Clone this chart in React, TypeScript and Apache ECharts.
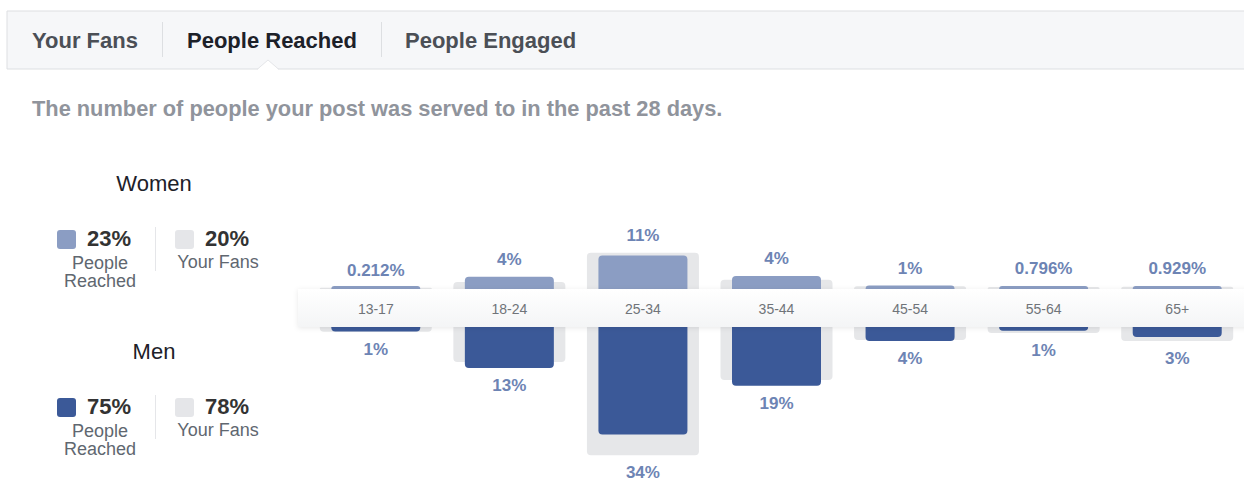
import React, { useEffect, useRef } from 'react';
import * as echarts from 'echarts';

const categories = ['13-17', '18-24', '25-34', '35-44', '45-54', '55-64', '65+'];
const womenReached = [0.212, 3.9, 10.6, 4.1, 1.1, 0.796, 0.929];
const womenFans = [0.4, 2.2, 11.5, 2.9, 0.9, 0.6, 0.7];
const menReached = [1.4, 13, 34, 18.6, 4.4, 1.2, 3.2];
const menFans = [1.5, 11.1, 40.6, 16.8, 4.1, 1.9, 4.4];

const womenTotalReached = '23%';
const womenTotalFans = '20%';
const menTotalReached = '75%';
const menTotalFans = '78%';

const tabs = ['Your Fans', 'People Reached', 'People Engaged'];
const subtitle = 'The number of people your post was served to in the past 28 days.';

const FONT = "'Liberation Sans', Arial, Helvetica, sans-serif";
const WOMEN_COLOR = '#8b9dc3';
const MEN_COLOR = '#3b5998';
const FANS_COLOR = '#e6e7e9';
const LABEL_COLOR = '#6d84b4';

const fmt = (v: number) => (v < 1 ? `${v}%` : `${Math.round(v)}%`);

function txt(text: string, x: number, y: number, size: number, weight: string, fill: string, align = 'left') {
  return {
    type: 'text',
    x,
    y,
    z: 20,
    style: {
      text,
      font: `${weight} ${size}px ${FONT}`,
      fill,
      textAlign: align,
      align,
      textVerticalAlign: 'middle',
      verticalAlign: 'middle',
    },
  };
}

function legendBlock(title: string, color: string, reached: string, fans: string, dy: number) {
  return [
    txt(title, 154, 183 + dy, 22, 'normal', '#1d2129', 'center'),
    { type: 'rect', z: 20, shape: { x: 57, y: 230 + dy, width: 19, height: 19, r: 3 }, style: { fill: color } },
    txt(reached, 87, 238 + dy, 22, 'bold', '#333333'),
    txt('People', 100, 263 + dy, 18, 'normal', '#606770', 'center'),
    txt('Reached', 100, 281 + dy, 18, 'normal', '#606770', 'center'),
    { type: 'line', z: 20, shape: { x1: 155.5, y1: 227 + dy, x2: 155.5, y2: 271 + dy }, style: { stroke: '#e5e6e9', lineWidth: 1 } },
    { type: 'rect', z: 20, shape: { x: 175, y: 230 + dy, width: 19, height: 19, r: 3 }, style: { fill: '#e5e6e9' } },
    txt(fans, 205, 238 + dy, 22, 'bold', '#333333'),
    txt('Your Fans', 218, 262 + dy, 18, 'normal', '#606770', 'center'),
  ];
}

export default function App() {
  const ref = useRef<HTMLDivElement>(null);
  useEffect(() => {
    const chart = echarts.init(ref.current!, null, { renderer: 'svg' });
    const womenMax = womenReached.map((v, i) => Math.max(v, womenFans[i]));
    const menMax = menReached.map((v, i) => Math.max(v, menFans[i]));

    const hiddenX = (gridIndex: number) => ({
      type: 'category', gridIndex, data: categories, show: false,
    });

    const option: any = {
      animation: false,
      backgroundColor: '#ffffff',
      grid: [
        { left: 309, right: 0, top: 150, bottom: 193 },
        { left: 309, right: 0, top: 327, bottom: 16 },
      ],
      xAxis: [
        {
          type: 'category', gridIndex: 0, data: categories, position: 'bottom', z: 30,
          axisLine: { show: false }, axisTick: { show: false },
          axisLabel: { margin: 13, fontSize: 14, color: '#707479', fontFamily: FONT },
        },
        hiddenX(0),
        hiddenX(1),
        hiddenX(1),
      ],
      yAxis: [
        { type: 'value', gridIndex: 0, min: 0, max: 44, show: false, splitLine: { show: false } },
        { type: 'value', gridIndex: 1, min: 0, max: 44, inverse: true, show: false, splitLine: { show: false } },
      ],
      series: [
        {
          type: 'bar', name: 'Women fans', xAxisIndex: 0, yAxisIndex: 0, barWidth: 112, silent: true,
          data: womenFans, itemStyle: { color: FANS_COLOR, borderRadius: [4, 4, 0, 0] },
        },
        {
          type: 'bar', name: 'Women reached', xAxisIndex: 1, yAxisIndex: 0, barWidth: 89, barGap: '-100%', barMinHeight: 3, silent: true,
          data: womenReached, itemStyle: { color: WOMEN_COLOR, borderRadius: [4, 4, 0, 0] },
        },
        {
          type: 'bar', name: 'Women label', xAxisIndex: 1, yAxisIndex: 0, barWidth: 89, barGap: '-100%', silent: true,
          data: womenMax, itemStyle: { color: 'rgba(0,0,0,0)' },
          label: {
            show: true, position: 'top', distance: 9, color: LABEL_COLOR, fontSize: 17, fontWeight: 'bold', fontFamily: FONT,
            formatter: (p: any) => fmt(womenReached[p.dataIndex]),
          },
        },
        {
          type: 'bar', name: 'Men fans', xAxisIndex: 2, yAxisIndex: 1, barWidth: 112, silent: true,
          data: menFans, itemStyle: { color: FANS_COLOR, borderRadius: [0, 0, 4, 4] },
        },
        {
          type: 'bar', name: 'Men reached', xAxisIndex: 3, yAxisIndex: 1, barWidth: 89, barGap: '-100%', barMinHeight: 3, silent: true,
          data: menReached, itemStyle: { color: MEN_COLOR, borderRadius: [0, 0, 4, 4] },
        },
        {
          type: 'bar', name: 'Men label', xAxisIndex: 3, yAxisIndex: 1, barWidth: 89, barGap: '-100%', silent: true,
          data: menMax, itemStyle: { color: 'rgba(0,0,0,0)' },
          label: {
            show: true, position: 'bottom', distance: 9, color: LABEL_COLOR, fontSize: 17, fontWeight: 'bold', fontFamily: FONT,
            formatter: (p: any) => fmt(menReached[p.dataIndex]),
          },
        },
      ],
      graphic: [
        { type: 'rect', z: 1, shape: { x: 7, y: 11, width: 1240, height: 58 }, style: { fill: '#f6f7f9', stroke: '#dddfe2', lineWidth: 1 } },
        txt(tabs[0], 32, 40, 22, 'bold', '#4b4f56'),
        { type: 'line', z: 20, shape: { x1: 162.5, y1: 22, x2: 162.5, y2: 57 }, style: { stroke: '#dddfe2', lineWidth: 1 } },
        txt(tabs[1], 187, 40, 22, 'bold', '#1d2129'),
        { type: 'line', z: 20, shape: { x1: 381.5, y1: 22, x2: 381.5, y2: 57 }, style: { stroke: '#dddfe2', lineWidth: 1 } },
        txt(tabs[2], 405, 40, 22, 'bold', '#4b4f56'),
        { type: 'polygon', z: 21, shape: { points: [[257, 70], [268, 60], [279, 70]] }, style: { fill: '#ffffff' } },
        { type: 'polyline', z: 21, shape: { points: [[257, 69.5], [268, 60], [279, 69.5]] }, style: { stroke: '#e5e6e9', lineWidth: 1, fill: 'none' } },
        txt(subtitle, 32, 108, 21.8, 'bold', '#90949c'),
        {
          type: 'rect', z: 25, shape: { x: 298, y: 289, width: 960, height: 38 },
          style: {
            fill: new echarts.graphic.LinearGradient(0, 0, 0, 1, [
              { offset: 0, color: '#ffffff' },
              { offset: 1, color: '#f4f5f6' },
            ]),
            shadowBlur: 5, shadowColor: 'rgba(0,0,0,0.09)', shadowOffsetY: 1,
          },
        },
        ...legendBlock('Women', WOMEN_COLOR, womenTotalReached, womenTotalFans, 0),
        ...legendBlock('Men', MEN_COLOR, menTotalReached, menTotalFans, 168),
      ],
    };
    chart.setOption(option);
    return () => chart.dispose();
  }, []);
  return (
    <div
      ref={ref}
      style={{ position: 'fixed', left: 0, top: 0, width: 1244, height: 482, background: '#ffffff' }}
    />
  );
}
